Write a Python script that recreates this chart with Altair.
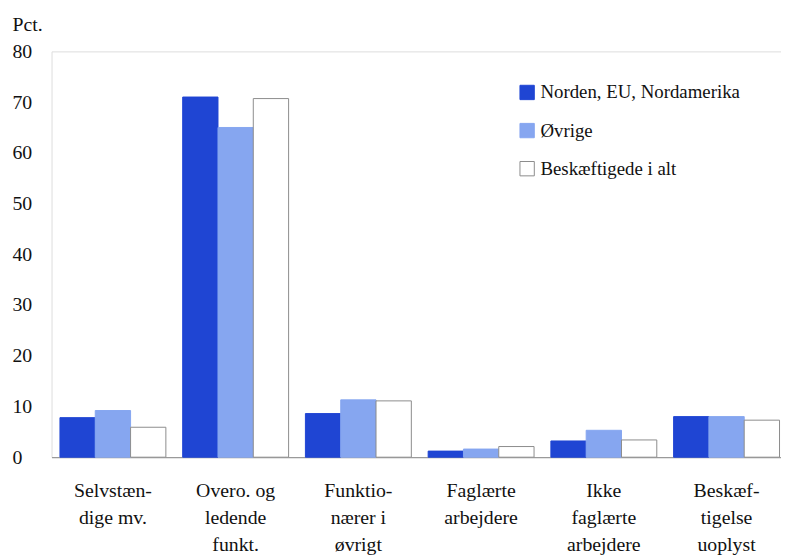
import altair as alt
import pandas as pd

categories = [
    "Selvstæn-|dige mv.",
    "Overo. og|ledende|funkt.",
    "Funktio-|nærer i|øvrigt",
    "Faglærte|arbejdere",
    "Ikke|faglærte|arbejdere",
    "Beskæf-|tigelse|uoplyst",
]
series = ["Norden, EU, Nordamerika", "Øvrige", "Beskæftigede i alt"]
norden = [7.8, 71.0, 8.6, 1.2, 3.2, 8.0]
ovrige = [9.2, 65.0, 11.3, 1.6, 5.3, 8.0]
alt_i_alt = [5.9, 70.7, 11.1, 2.1, 3.4, 7.3]
colors = ["#1f45d3", "#86a6f0", "#ffffff"]
strokes = ["#1f45d3", "#86a6f0", "#8c8c8c"]

rows = []
for i, c in enumerate(categories):
    for s, vals in zip(series, [norden, ovrige, alt_i_alt]):
        rows.append({"kategori": c, "serie": s, "pct": vals[i]})
df = pd.DataFrame(rows)

FONT = "Liberation Serif"

chart = alt.Chart(df).mark_bar(strokeWidth=1).encode(
    x=alt.X(
        "kategori:N",
        sort=categories,
        scale=alt.Scale(range=[0, 744], paddingInner=0.137, paddingOuter=0.0685),
        axis=alt.Axis(
            title=None,
            labelAngle=0,
            ticks=False,
            labelExpr="split(datum.label, '|')",
            labelFont=FONT,
            labelFontSize=20,
            labelColor="#111111",
            labelLineHeight=27,
            labelBaseline="top",
            labelPadding=24,
            labelLimit=200,
            domainColor="#8a8a8a",
            domainWidth=1,
        ),
    ),
    xOffset=alt.XOffset("serie:N", sort=series, scale=alt.Scale(paddingInner=0, paddingOuter=0)),
    y=alt.Y(
        "pct:Q",
        scale=alt.Scale(domain=[0, 80], nice=False),
        axis=alt.Axis(
            title="Pct.",
            titleAngle=0,
            titleAlign="left",
            titleBaseline="middle",
            titleX=-40,
            titleY=-27,
            titleFont=FONT,
            titleFontSize=20,
            titleFontWeight="normal",
            titleColor="#111111",
            values=[0, 10, 20, 30, 40, 50, 60, 70, 80],
            grid=False,
            ticks=False,
            domain=False,
            labelAlign="left",
            labelPadding=40,
            labelFont=FONT,
            labelFontSize=20,
            labelColor="#111111",
        ),
    ),
    fill=alt.Fill(
        "serie:N",
        sort=series,
        scale=alt.Scale(domain=series, range=colors),
        legend=alt.Legend(
            title=None,
            orient="none",
            legendX=471,
            legendY=32,
            symbolType="square",
            symbolSize=210,
            symbolStrokeWidth=1,
            labelFont=FONT,
            labelFontSize=19,
            labelColor="#111111",
            labelLimit=320,
            rowPadding=18.5,
            labelOffset=4,
            symbolOpacity=1,
        ),
    ),
    stroke=alt.Stroke(
        "serie:N",
        sort=series,
        scale=alt.Scale(domain=series, range=strokes),
        legend=None,
    ),
).properties(
    width=737,
    height=410,
    autosize=alt.AutoSizeParams(type="none"),
    padding={"left": 44, "top": 41, "right": 0, "bottom": 98},
).configure_view(stroke=None).configure(background="white")

chart.save("out.html", embed_options={"renderer": "svg", "actions": False})
